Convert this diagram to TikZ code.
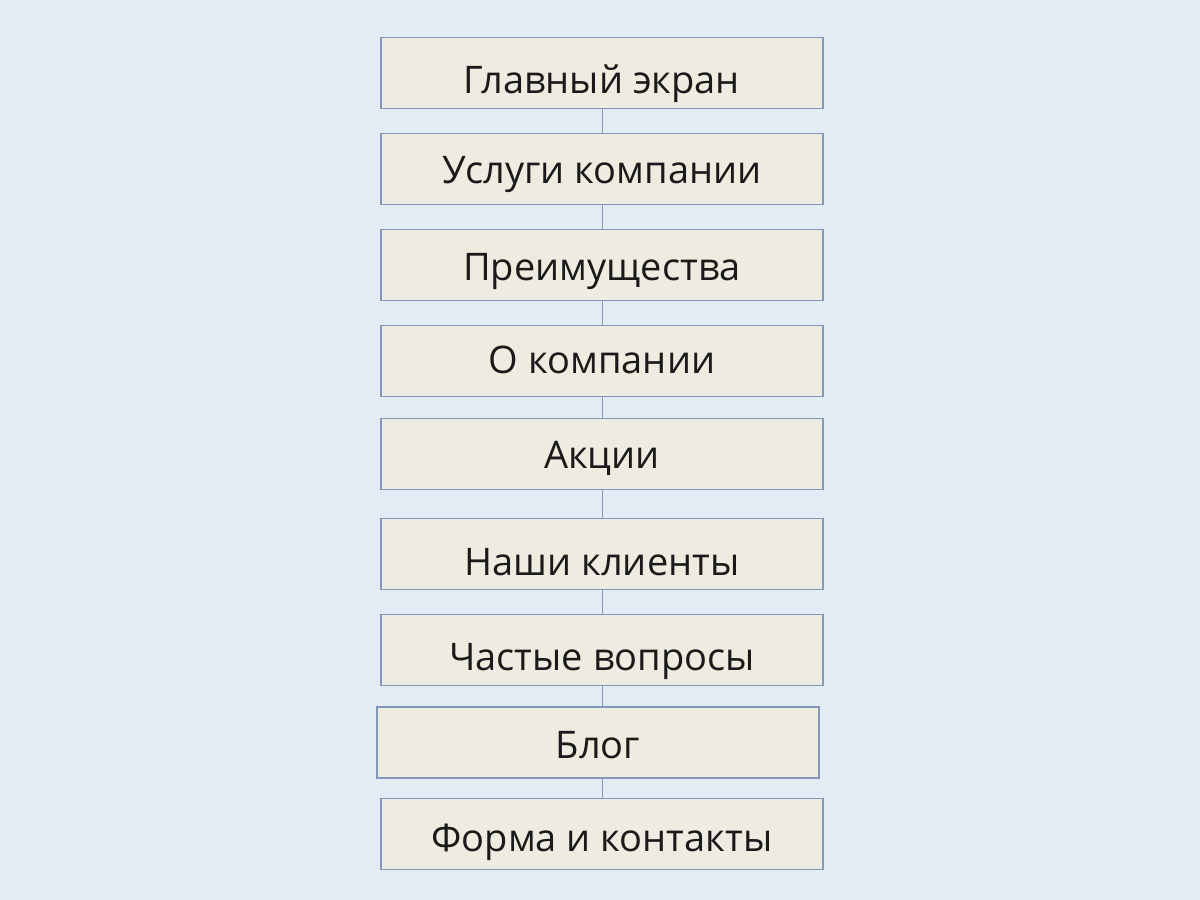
\documentclass[tikz,border=0pt]{standalone}
\usepackage{fontspec}
\setmainfont{Open Sans}
\usetikzlibrary{positioning}
\definecolor{pagebg}{HTML}{E3EBF4}
\definecolor{boxfill}{HTML}{EEEBE0}
\definecolor{boxline}{HTML}{8297B9}
\definecolor{textcol}{HTML}{1A1A1A}
\tikzset{
  section/.style={rectangle, draw=boxline, line width=1.6pt, fill=boxfill,
    minimum width=442pt, minimum height=71pt, inner sep=0pt,
    text height=28pt, text depth=0pt,
    font=\fontsize{38}{44}\selectfont, text=textcol},
  low/.style={text height=#1},
  link/.style={draw=boxline, line width=1pt}
}
\begin{document}
\begin{tikzpicture}[x=1pt,y=-1pt]

    \fill [pagebg] (0,0) rectangle (1200,900);
    \useasboundingbox (0,0) rectangle (1200,900);

    \node [section, low=40pt] (main)     at (602,73)    {Главный экран};
    \node [section]           (services) at (602,169)   {Услуги компании};
    \node [section, low=30pt] (benefits) at (602,265)   {Преимущества};
    \node [section, low=25pt] (about)    at (602,361)   {О компании};
    \node [section]           (promo)    at (602,454)   {Акции};
    \node [section, low=42pt] (clients)  at (602,554)   {Наши клиенты};
    \node [section, low=40pt] (faq)      at (602,650)   {Частые вопросы};
    \node [section, low=31pt] (blog)     at (598,742.5) {Блог};
    \node [section, low=34pt] (contacts) at (602,834)   {Форма и контакты};

    \draw [link] (main.south)     -- (services.north);
    \draw [link] (services.south) -- (benefits.north);
    \draw [link] (benefits.south) -- (about.north);
    \draw [link] (about.south)    -- (promo.north);
    \draw [link] (promo.south)    -- (clients.north);
    \draw [link] (clients.south)  -- (faq.north);
    \draw [link] (faq.south)      -- (faq.south |- blog.north);
    \draw [link] (faq.south |- blog.south) -- (contacts.north);

\end{tikzpicture}
\end{document}
